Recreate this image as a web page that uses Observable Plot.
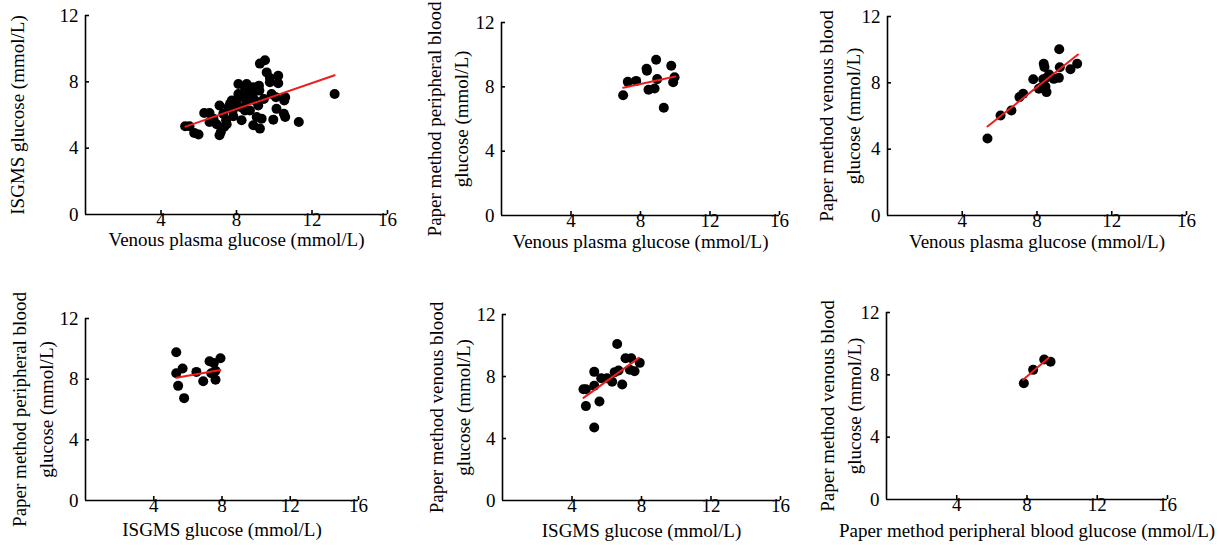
<!DOCTYPE html>
<html><head><meta charset="utf-8">
<script src="https://cdn.jsdelivr.net/npm/d3@7"></script>
<script src="https://cdn.jsdelivr.net/npm/@observablehq/plot@0.6"></script>
<style>
body{margin:0;background:#fff;}
#chart{position:relative;width:1221px;height:550px;overflow:hidden;background:#fff;}
#chart > div{position:absolute;}
</style></head><body><div id="chart"></div>
<script>
// Tick values
const xTicks = [4, 8, 12, 16];
const yTicks = [0, 4, 8, 12];

// Axis titles
const xLabels = [
  "Venous plasma glucose (mmol/L)",
  "Venous plasma glucose (mmol/L)",
  "Venous plasma glucose (mmol/L)",
  "ISGMS glucose (mmol/L)",
  "ISGMS glucose (mmol/L)",
  "Paper method peripheral blood glucose (mmol/L)"
];
const yLabels = [
  "ISGMS glucose (mmol/L)",
  "Paper method peripheral blood\nglucose (mmol/L)",
  "Paper method venous blood\nglucose (mmol/L)",
  "Paper method peripheral blood\nglucose (mmol/L)",
  "Paper method venous blood\nglucose (mmol/L)",
  "Paper method venous blood\nglucose (mmol/L)"
];

// Panel 1: venous plasma vs ISGMS
const p1x = [5.28,5.51,5.76,5.99,6.29,6.57,6.57,7.10,7.10,7.17,
             6.95,7.34,7.45,7.48,7.66,7.75,7.80,7.83,8.10,8.10,
             8.24,8.27,8.36,8.45,8.54,8.54,8.63,8.71,8.86,8.89,
             8.98,9.07,9.15,9.19,9.21,8.89,9.07,9.24,9.33,9.24,
             9.51,9.60,9.45,9.77,9.77,9.95,9.86,10.09,10.12,10.21,
             10.21,10.51,10.58,10.58,10.53,11.30,13.20,7.98,8.45,6.78,7.30,7.57];
const p1y = [5.32,5.32,4.92,4.82,6.12,6.12,5.58,6.57,4.78,4.98,
             5.44,5.28,5.68,5.44,6.67,6.87,6.27,5.92,7.27,7.87,
             6.47,5.68,7.07,7.63,7.87,6.87,7.37,6.27,7.23,7.67,
             6.87,7.63,6.57,7.77,7.47,5.38,5.88,5.18,5.78,9.10,
             9.30,8.57,6.97,8.23,7.97,5.72,7.27,7.07,6.37,7.91,
             8.37,6.08,5.88,7.07,6.87,5.58,7.27,6.77,6.27,5.78,6.08,6.47];
const fit1x = [5.3, 13.2];
const fit1y = [5.3, 8.4];

// Panel 2: venous plasma vs paper peripheral
const p2x = [7.00,7.27,7.75,8.35,8.37,8.46,8.90,8.81,8.96,9.34,9.77,9.96,9.88];
const p2y = [7.48,8.31,8.37,9.12,9.00,7.82,9.68,7.90,8.48,6.70,9.31,8.60,8.29];
const fit2x = [7.0, 10.0];
const fit2y = [7.94, 8.64];

// Panel 3: venous plasma vs paper venous
const p3x = [5.35,6.05,6.63,7.06,7.26,7.80,8.10,8.36,8.40,8.33,8.45,8.51,8.55,8.90,9.17,9.22,9.19,9.79,10.15,8.65,8.20];
const p3y = [4.64,6.03,6.33,7.14,7.34,8.22,7.64,9.15,8.95,8.22,7.78,7.44,8.34,8.24,8.30,8.94,10.03,8.82,9.15,8.50,7.70];
const fit3x = [5.35, 10.19];
const fit3y = [5.37, 9.71];

// Panel 4: ISGMS vs paper peripheral
const p4x = [5.32,5.32,5.43,5.69,5.78,6.50,6.90,7.27,7.52,7.37,7.62,7.62,7.91];
const p4y = [9.78,8.39,7.56,8.70,6.75,8.48,7.86,9.18,9.07,8.39,8.55,7.96,9.38];
const fit4x = [5.32, 7.91];
const fit4y = [8.09, 8.61];

// Panel 5: ISGMS vs paper venous
const p5x = [4.66,4.80,4.80,5.28,5.28,5.28,5.58,5.68,6.02,6.31,6.46,6.60,6.68,6.89,7.08,7.41,7.33,7.60,7.90];
const p5y = [7.18,7.18,6.09,4.71,8.30,7.40,6.39,7.89,7.89,7.66,8.28,10.10,8.39,7.48,9.18,9.18,8.43,8.34,8.88];
const fit5x = [4.66, 7.85];
const fit5y = [6.62, 9.20];

// Panel 6: paper peripheral vs paper venous
const p6x = [7.82,8.35,8.98,9.34];
const p6y = [7.46,8.32,8.98,8.84];
const fit6x = [7.78, 9.24];
const fit6y = [7.68, 9.09];

const seriesX = [p1x, p2x, p3x, p4x, p5x, p6x];
const seriesY = [p1y, p2y, p3y, p4y, p5y, p6y];
const fitsX = [fit1x, fit2x, fit3x, fit4x, fit5x, fit6x];
const fitsY = [fit1y, fit2y, fit3y, fit4y, fit5y, fit6y];

// Layout (pixels)
const layout = [
  {left:0,   top:0,   width:410, height:270, mL:85, mR:23, mT:15, mB:56, yDx:-70,  xDy:31},
  {left:410, top:0,   width:400, height:270, mL:91, mR:31, mT:22, mB:55, yDx:-56,  xDy:32},
  {left:810, top:0,   width:411, height:270, mL:77, mR:35, mT:16, mB:55, yDx:-50,  xDy:32},
  {left:0,   top:270, width:410, height:280, mL:85, mR:52, mT:48, mB:50, yDx:-55,  xDy:35},
  {left:410, top:270, width:400, height:280, mL:92, mR:30, mT:44, mB:50, yDx:-55,  xDy:36.5},
  {left:810, top:270, width:411, height:280, mL:76, mR:54, mT:42, mB:51, yDx:-48,  xDy:37.5}
];

const chart = document.getElementById("chart");
const FONT = "'Liberation Serif', 'Times New Roman', serif";

layout.forEach((L, i) => {
  const pts = seriesX[i].map((x, j) => ({x, y: seriesY[i][j]}));
  const fit = fitsX[i].map((x, j) => ({x, y: fitsY[i][j]}));
  const innerW = L.width - L.mL - L.mR;
  const innerH = L.height - L.mT - L.mB;
  const svg = Plot.plot({
    width: L.width, height: L.height,
    marginLeft: L.mL, marginRight: L.mR, marginTop: L.mT, marginBottom: L.mB,
    x: {domain: [0, 16], axis: null},
    y: {domain: [0, 12], axis: null},
    style: {fontFamily: FONT, fontSize: "19px", background: "white", color: "black", overflow: "visible"},
    marks: [
      Plot.ruleY([0], {stroke: "black", strokeWidth: 1.6}),
      Plot.ruleX([0], {stroke: "black", strokeWidth: 1.6}),
      Plot.ruleX(xTicks, {x: d => d, insetTop: innerH - 4, stroke: "black", strokeWidth: 1.6}),
      Plot.ruleY(yTicks.filter(v => v > 0), {y: d => d, insetRight: innerW - 4, stroke: "black", strokeWidth: 1.6}),
      Plot.text(xTicks, {x: d => d, frameAnchor: "bottom", dy: 11, textAnchor: "middle", text: d => String(d), fontSize: 19, fill: "black"}),
      Plot.text(yTicks, {y: d => d, frameAnchor: "left", dx: -7, textAnchor: "end", text: d => String(d), fontSize: 19, fill: "black"}),
      Plot.text([xLabels[i]], {frameAnchor: "bottom", dy: L.xDy, textAnchor: "middle", text: d => d, fontSize: 19, fill: "black"}),
      Plot.text([yLabels[i]], {frameAnchor: "left", dx: L.yDx, rotate: -90, textAnchor: "middle", lineAnchor: "middle", lineHeight: 1.45, text: d => d, fontSize: 19, fill: "black"}),
      Plot.dot(pts, {x: "x", y: "y", r: 5, fill: "black", stroke: "none"}),
      Plot.line(fit, {x: "x", y: "y", stroke: "#ee1c1c", strokeWidth: 2})
    ]
  });
  const div = document.createElement("div");
  div.style.left = L.left + "px";
  div.style.top = L.top + "px";
  div.appendChild(svg);
  chart.appendChild(div);
});
</script>
</body></html>
